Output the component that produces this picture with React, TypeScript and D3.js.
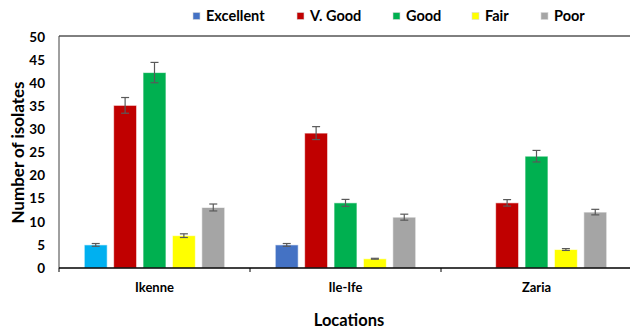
import React from "react";
import * as d3 from "d3";

const locations = ["Ikenne", "Ile-Ife", "Zaria"];
const seriesNames = ["Excellent", "V. Good", "Good", "Fair", "Poor"];
const seriesColors = ["#4472C4", "#C00000", "#00B050", "#FFFF00", "#A5A5A5"];
// values[series][location]
const excellent = [5.0, 5.0, 0];
const vGood = [35.2, 29.2, 14.1];
const good = [42.3, 14.1, 24.2];
const fair = [7.0, 2.0, 4.0];
const poor = [13.1, 11.0, 12.1];
const excellentErr = [0.3, 0.3, 0];
const vGoodErr = [1.7, 1.4, 0.7];
const goodErr = [2.2, 0.75, 1.25];
const fairErr = [0.4, 0.1, 0.2];
const poorErr = [0.75, 0.65, 0.6];
// special fill for the Ikenne excellent bar
const ikenneExcellentColor = "#00B0F0";
const yTicks = [0, 5, 10, 15, 20, 25, 30, 35, 40, 45, 50];

const W = 630;
const H = 330;
const FONT = "Lato, 'Liberation Sans', sans-serif";

export default function App() {
  const values = [excellent, vGood, good, fair, poor];
  const errs = [excellentErr, vGoodErr, goodErr, fairErr, poorErr];
  const left = 59;
  const right = 632;
  const top = 37;
  const bottom = 268;

  const x0 = d3.scaleBand().domain(locations).range([left, right]).paddingInner(0).paddingOuter(0);
  const x1 = d3
    .scaleBand()
    .domain(seriesNames)
    .range([0, x0.bandwidth()])
    .paddingInner(0.22)
    .paddingOuter(0.86);
  const y = d3.scaleLinear().domain([0, 50]).range([bottom, top]);

  const legendX = [193, 297, 393, 472, 541];

  return (
    <svg
      width={W}
      height={H}
      style={{ position: "absolute", left: 0, top: 0, background: "#fff" }}
      fontFamily={FONT}
    >
      {/* legend */}
      {seriesNames.map((s, i) => (
        <g key={s} transform={`translate(${legendX[i]},16)`}>
          <rect x={0} y={-3.5} width={7} height={7} fill={seriesColors[i]} stroke="#d9d9d9" strokeWidth={0.6} />
          <text x={13} y={0} dy="0.35em" fontSize={14.5} fontWeight="bold" fill="#000">
            {s}
          </text>
        </g>
      ))}

      {/* top border */}
      <line x1={left} x2={W} y1={36} y2={36} stroke="#000" strokeWidth={1} />

      {/* bars */}
      {locations.map((loc, li) => (
        <g key={loc}>
          {seriesNames.map((s, si) => {
            const v = values[si][li];
            if (!v) return null;
            const bx = (x0(loc) as number) + (x1(s) as number);
            const bw = x1.bandwidth();
            const fill = li === 0 && si === 0 ? ikenneExcellentColor : seriesColors[si];
            const e = errs[si][li];
            const cx = bx + bw / 2;
            return (
              <g key={s}>
                <rect
                  x={bx}
                  y={y(v)}
                  width={bw}
                  height={bottom - y(v)}
                  fill={fill}
                  stroke="#ffffff"
                  strokeOpacity={0.6}
                  strokeWidth={1}
                />
                <line x1={cx} x2={cx} y1={y(v + e)} y2={y(v - e)} stroke="#595959" strokeWidth={1.2} />
                <line x1={cx - 4} x2={cx + 4} y1={y(v + e)} y2={y(v + e)} stroke="#595959" strokeWidth={1.2} />
                <line x1={cx - 4} x2={cx + 4} y1={y(v - e)} y2={y(v - e)} stroke="#595959" strokeWidth={1.2} />
              </g>
            );
          })}
        </g>
      ))}

      {/* y axis */}
      <line x1={left} x2={left} y1={36} y2={bottom} stroke="#404040" strokeWidth={1} />
      {yTicks.map((t) => (
        <text
          key={t}
          x={45}
          y={y(t)}
          dy="0.35em"
          textAnchor="end"
          fontSize={13.5}
          fontWeight="bold"
          fill="#000"
        >
          {t}
        </text>
      ))}

      {/* x axis */}
      <line x1={left} x2={W} y1={bottom} y2={bottom} stroke="#000" strokeWidth={1.5} />
      {locations.map((loc) => (
        <line
          key={"t" + loc}
          x1={x0(loc) as number}
          x2={x0(loc) as number}
          y1={bottom}
          y2={bottom + 4}
          stroke="#000"
          strokeWidth={1}
        />
      ))}
      {locations.map((loc) => (
        <text
          key={loc}
          x={(x0(loc) as number) + x0.bandwidth() / 2}
          y={287}
          dy="0.35em"
          textAnchor="middle"
          fontSize={13}
          fontWeight="bold"
          fill="#000"
        >
          {loc}
        </text>
      ))}

      {/* axis titles */}
      <text x={349} y={320} dy="0.35em" textAnchor="middle" fontSize={16.5} fontWeight="bold" fill="#000">
        Locations
      </text>
      <text
        transform={`translate(18,${(top + bottom) / 2}) rotate(-90)`}
        dy="0.35em"
        textAnchor="middle"
        fontSize={17}
        fontWeight="bold"
        fill="#000"
      >
        Number of isolates
      </text>
    </svg>
  );
}
